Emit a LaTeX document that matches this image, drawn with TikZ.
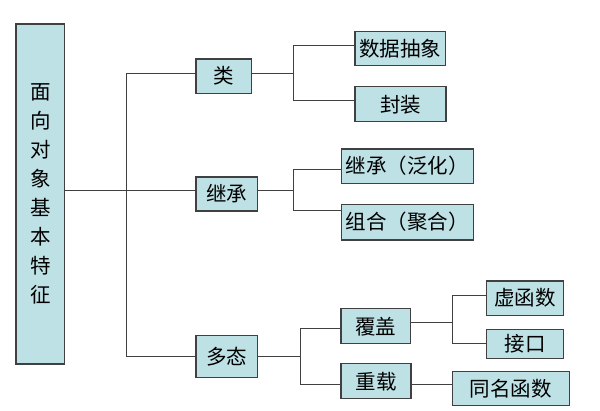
\documentclass[tikz,border=0pt]{standalone}
\usepackage{fontspec}
\setmainfont{Noto Sans CJK SC}
\definecolor{boxfill}{RGB}{190,225,230}
\definecolor{boxline}{RGB}{64,64,64}
\tikzset{every picture/.style={line width=0.75pt}}
\tikzset{
  featbox/.style={draw=boxline, fill=boxfill, line width=1.1pt, inner sep=0pt,
    font=\fontsize{20.5}{29}\selectfont},
  link/.style={draw=boxline, line width=0.9pt}
}

\begin{document}
\begin{tikzpicture}[x=1pt,y=1pt,yscale=-1,xscale=1]
	\useasboundingbox (0,0) rectangle (600,411);

	%Shape: Root box
	\node [featbox, minimum width=48.7, minimum height=340, align=center] (root) at (40.3,194) {面\\向\\对\\象\\基\\本\\特\\征};

	%Shape: Level 1
	\node [featbox, minimum width=55.7, minimum height=34.3] (lei) at (223.8,76.2) {类};
	\node [featbox, minimum width=61.7, minimum height=34] (jicheng) at (226.8,194) {继承};
	\node [featbox, minimum width=61.7, minimum height=41.7] (duotai) at (226.8,356.8) {多态};

	%Shape: Level 2
	\node [featbox, minimum width=90.7, minimum height=34.3] (sjcx) at (400.3,48.8) {数据抽象};
	\node [featbox, minimum width=91, minimum height=35.3] (fengzhuang) at (400.5,104.3) {封装};
	\node [featbox, minimum width=132.3, minimum height=34.3] (fanhua) at (407.2,166.2) {继承（泛化）};
	\node [featbox, minimum width=132.3, minimum height=35.7] (juhe) at (407.2,222.2) {组合（聚合）};
	\node [featbox, minimum width=69.7, minimum height=35.3] (fugai) at (375.8,326.3) {覆盖};
	\node [featbox, minimum width=70, minimum height=35.3] (chongzai) at (376,381.3) {重载};

	%Shape: Level 3
	\node [featbox, minimum width=76.7, minimum height=34.3] (xuhanshu) at (525,298.2) {虚函数};
	\node [featbox, minimum width=76.7, minimum height=29.3] (jiekou) at (525,343.8) {接口};
	\node [featbox, minimum width=117.3, minimum height=34.7] (tongming) at (510.7,388.5) {同名函数};

	%Straight Lines: root to level 1
	\draw [link] ([yshift=-3.3pt]root.east) -- ++(61.7,0) coordinate (t0);
	\draw [link] ([yshift=-2.9pt]lei.west) -| (t0) |- (duotai.west);
	\draw [link] (t0) -- ([yshift=-3.3pt]jicheng.west);

	%Straight Lines: 类
	\draw [link] ([yshift=-2.9pt]lei.east) -- ++(41,0) coordinate (t1);
	\draw [link] ([yshift=-3.5pt]sjcx.west) -| (t1) |- ([yshift=-4.3pt]fengzhuang.west);

	%Straight Lines: 继承
	\draw [link] ([yshift=-3.3pt]jicheng.east) -- ++(35,0) coordinate (t2);
	\draw [link] ([yshift=3.1pt]fanhua.west) -| (t2) |- ([yshift=-12.2pt]juhe.west);

	%Straight Lines: 多态
	\draw [link] (duotai.east) -- ++(42.3,0) coordinate (t3);
	\draw [link] ([yshift=1.7pt]fugai.west) -| (t3) |- ([yshift=3.4pt]chongzai.west);

	%Straight Lines: 覆盖 and 重载
	\draw [link] ([yshift=-4pt]fugai.east) -- ++(41,0) coordinate (t4);
	\draw [link] ([yshift=-3.2pt]xuhanshu.west) -| (t4) |- ([yshift=-0.5pt]jiekou.west);
	\draw [link] ([yshift=3.4pt]chongzai.east) -- ([yshift=-3.8pt]tongming.west);

	\end{tikzpicture}
\end{document}
